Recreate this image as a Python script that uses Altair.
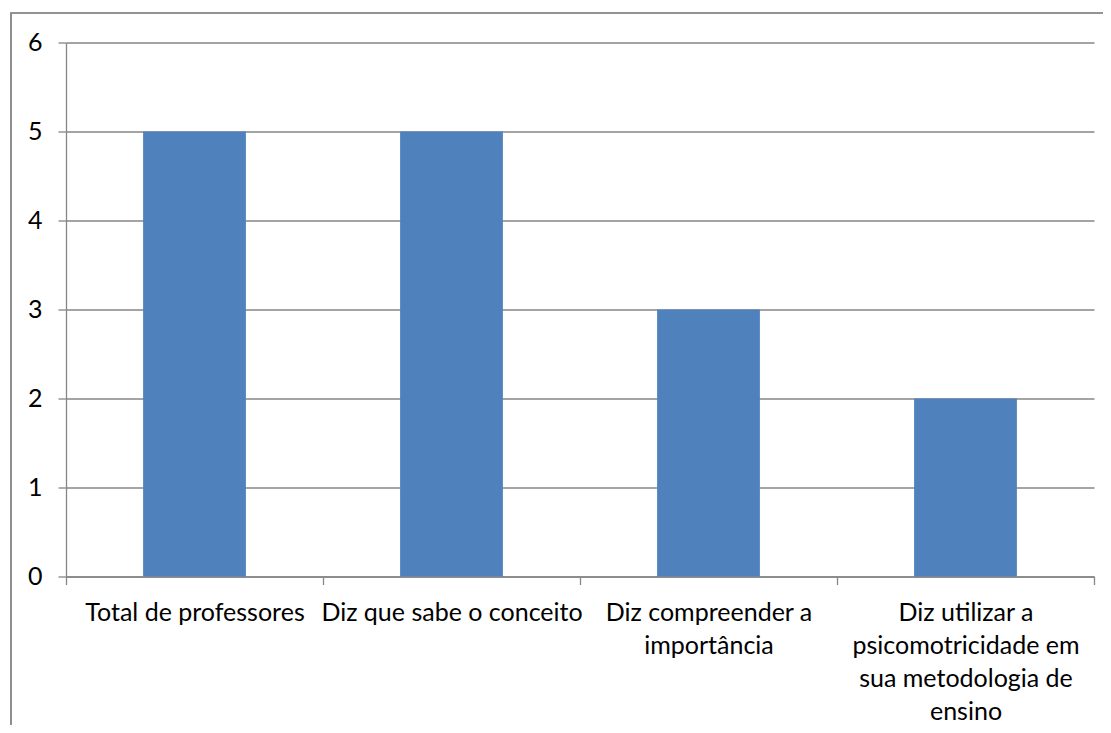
import altair as alt
import pandas as pd

categories = [
    "Total de professores",
    "Diz que sabe o conceito",
    "Diz compreender a|importância",
    "Diz utilizar a|psicomotricidade em|sua metodologia de|ensino",
]
values = [5, 5, 3, 2]
y_ticks = [0, 1, 2, 3, 4, 5, 6]

df = pd.DataFrame({"cat": categories, "val": values})

GRAY = "#868686"
FONT = "Lato"
FS = 25

bars = alt.Chart(df).mark_bar(
    color="#4F81BD", width=alt.RelativeBandSize(0.4)
).encode(
    x=alt.X(
        "cat:N",
        sort=categories,
        title=None,
        scale=alt.Scale(paddingInner=0, paddingOuter=0),
        axis=alt.Axis(
            labelAngle=0,
            labelExpr="split(datum.label, '|')",
            labelFont=FONT,
            labelFontSize=FS,
            labelColor="#000000",
            labelLineHeight=33,
            labelBaseline="top",
            labelPadding=16,
            labelLimit=400,
            labelOverlap=False,
            tickBand="extent",
            tickSize=8,
            tickColor=GRAY,
            tickWidth=1.3,
            domainColor=GRAY,
            domainWidth=1.3,
            grid=False,
        ),
    ),
    y=alt.Y(
        "val:Q",
        title=None,
        scale=alt.Scale(domain=[0, 6], nice=False),
        axis=alt.Axis(
            values=y_ticks,
            labelFont=FONT,
            labelFontSize=FS,
            labelColor="#000000",
            labelPadding=16,
            tickSize=8,
            tickColor=GRAY,
            tickWidth=1.3,
            domainColor=GRAY,
            domainWidth=1.3,
            gridColor=GRAY,
            gridWidth=1.3,
        ),
    ),
)

border = alt.Chart(df).mark_rect(
    fill=None, stroke="#8c8c8c", strokeWidth=1.2, clip=False
).encode(
    x=alt.value(-55),
    x2=alt.value(1060),
    y=alt.value(-29.5),
    y2=alt.value(700),
)

chart = alt.layer(border, bars).properties(
    width=1028,
    height=534,
    autosize=alt.AutoSizeParams(type="none"),
    padding={"left": 58, "top": 34.5, "right": 9, "bottom": 148},
).configure_view(stroke=None)

chart.save("out.html", embed_options={"renderer": "svg", "actions": False})
